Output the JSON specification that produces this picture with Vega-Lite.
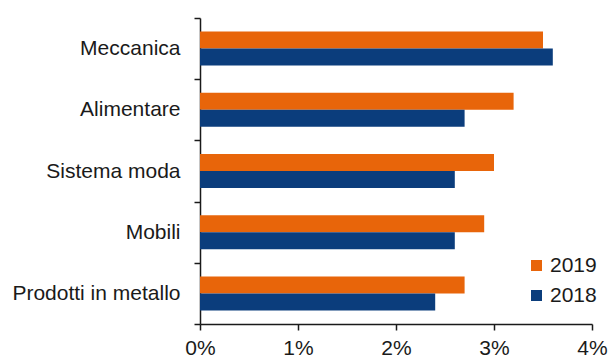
{
  "$schema": "https://vega.github.io/schema/vega-lite/v6.json",
  "autosize": {"type": "none"},
  "padding": {"left": 200, "top": 18, "right": 19, "bottom": 35},
  "width": 392,
  "height": 306,
  "background": "white",
  "config": {
    "view": {"stroke": null},
    "font": "Liberation Sans",
    "axis": {"labelFont": "Liberation Sans", "labelColor": "#1a1a1a", "domainColor": "#1a1a1a", "tickColor": "#1a1a1a", "domainWidth": 1.5, "tickWidth": 1.5},
    "legend": {"labelFont": "Liberation Sans", "labelColor": "#1a1a1a"}
  },
  "data": {
    "values": [
      {"settore": "Meccanica", "anno": "2019", "valore": 3.5},
      {"settore": "Meccanica", "anno": "2018", "valore": 3.6},
      {"settore": "Alimentare", "anno": "2019", "valore": 3.2},
      {"settore": "Alimentare", "anno": "2018", "valore": 2.7},
      {"settore": "Sistema moda", "anno": "2019", "valore": 3.0},
      {"settore": "Sistema moda", "anno": "2018", "valore": 2.6},
      {"settore": "Mobili", "anno": "2019", "valore": 2.9},
      {"settore": "Mobili", "anno": "2018", "valore": 2.6},
      {"settore": "Prodotti in metallo", "anno": "2019", "valore": 2.7},
      {"settore": "Prodotti in metallo", "anno": "2018", "valore": 2.4}
    ]
  },
  "mark": {"type": "bar"},
  "encoding": {
    "y": {
      "field": "settore",
      "type": "nominal",
      "sort": ["Meccanica", "Alimentare", "Sistema moda", "Mobili", "Prodotti in metallo"],
      "scale": {"paddingInner": 0, "paddingOuter": 0},
      "axis": {"title": null, "tickBand": "extent", "tickSize": 6, "labelPadding": 14, "labelFontSize": 21}
    },
    "yOffset": {
      "field": "anno",
      "type": "nominal",
      "sort": ["2019", "2018"],
      "scale": {"paddingInner": 0, "paddingOuter": 0.8}
    },
    "x": {
      "field": "valore",
      "type": "quantitative",
      "scale": {"domain": [0, 4], "nice": false},
      "axis": {"title": null, "values": [0, 1, 2, 3, 4], "labelExpr": "datum.value + '%'", "labelFlush": false, "grid": false, "tickSize": 6, "labelPadding": 7, "labelFontSize": 21}
    },
    "color": {
      "field": "anno",
      "type": "nominal",
      "scale": {"domain": ["2019", "2018"], "range": ["#E8650A", "#0B3D7C"]},
      "legend": {"title": null, "orient": "none", "legendX": 326, "legendY": 237, "symbolType": "square", "symbolSize": 121, "symbolStrokeWidth": 0, "labelFontSize": 21, "labelOffset": 3, "rowPadding": 8}
    }
  }
}
